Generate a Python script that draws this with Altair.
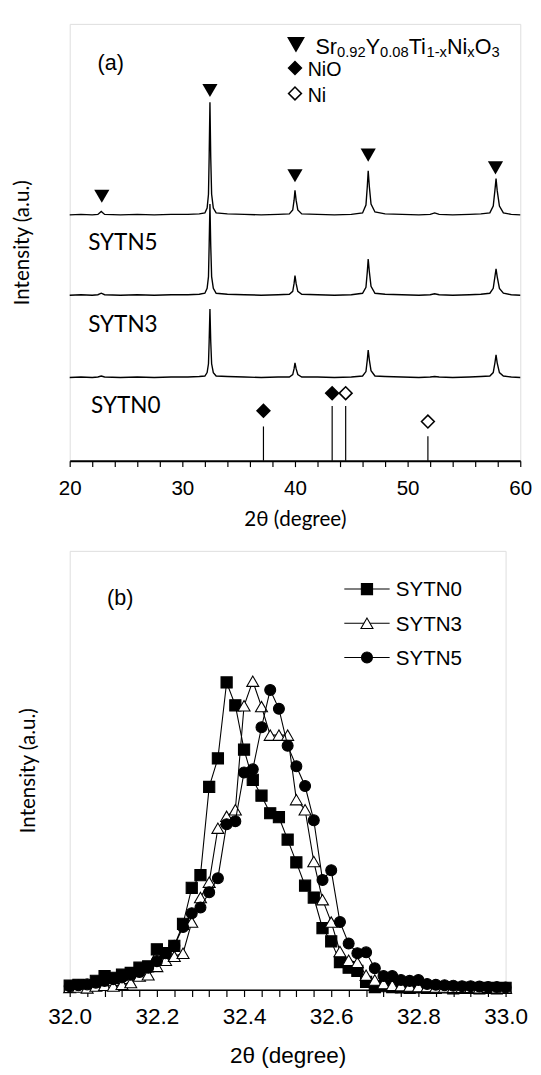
import altair as alt
import pandas as pd

# ---------------- Panel (a): XRD patterns ----------------
theta_a = [20.0, 21.0, 22.0, 22.5, 22.8, 23.1, 24.5, 26.0, 27.5, 29.0, 30.5, 31.5,
           32.0, 32.2, 32.32, 32.38, 32.45, 32.52, 32.6, 32.75, 33.0, 34.0, 35.5,
           37.0, 38.5, 39.5, 39.8, 39.92, 40.0, 40.1, 40.25, 40.6, 42.0, 43.5, 45.0,
           46.0, 46.3, 46.42, 46.5, 46.6, 46.75, 47.1, 48.0, 49.5, 51.0, 52.0, 52.4,
           52.8, 54.0, 55.5, 56.5, 57.3, 57.6, 57.75, 57.85, 57.95, 58.15, 58.5,
           59.2, 60.0]

int_top = [251, 251.5, 251, 251.5, 254.5, 251.5, 251, 251.5, 251, 251.5, 251.5, 252,
           253, 258, 272, 310, 366, 310, 272, 258, 253, 252, 251.5,
           251, 251.5, 252, 256, 266, 276, 266, 256, 252, 251.5, 251, 251.5,
           253, 261, 280, 296, 280, 262, 254, 252, 251.5, 251, 251.5, 253,
           251.5, 251, 251.5, 252, 253, 260, 276, 288, 276, 260, 253,
           251.5, 251]

int_mid = [169, 169.5, 169, 169.5, 171, 169.5, 169, 169.5, 169, 169.5, 169.5, 170,
           171, 176, 188, 220, 262, 220, 188, 176, 171, 170, 169.5,
           169, 169.5, 170, 173, 181, 189, 181, 173, 170, 169.5, 169, 169.5,
           171, 177, 193, 206, 193, 178, 171, 170, 169.5, 169, 169.5, 170.5,
           169.5, 169, 169.5, 170, 171, 176, 188, 196, 188, 176, 171,
           169.5, 169]

int_low = [85, 85.5, 85, 85.5, 86.5, 85.5, 85, 85.5, 85, 85.5, 85.5, 86,
           86.5, 90, 99, 122, 155, 122, 99, 90, 86.5, 86, 85.5,
           85, 85.5, 85.5, 88, 94, 100, 94, 88, 85.5, 85.5, 85, 85.5,
           86.5, 91, 103, 113, 103, 92, 86.5, 86, 85.5, 85, 85.5, 86,
           85.5, 85, 85.5, 86, 86.5, 90, 100, 108, 100, 90, 86.5,
           85.5, 85]

ref_x = [37.2, 43.3, 44.5, 51.8]
ref_h = [35, 56, 56, 25]
ref_mark_h = [51, 69, 69, 40]
ref_phase = ["NiO", "NiO", "Ni", "Ni"]

peak_x = [22.85, 32.45, 40.0, 46.5, 57.8]
peak_h = [270, 378, 291, 312, 299]

sample_names = ["SYTN5", "SYTN3", "SYTN0"]
sample_label_x = [21.64, 21.64, 21.9]
sample_label_h = [215, 131, 49]

# ---------------- Panel (b): zoom on main peak ----------------
theta_b = [round(32.0 + 0.02 * i, 2) for i in range(51)]

sytn0 = [0.009, 0.011, 0.009, 0.020, 0.031, 0.027, 0.034, 0.038, 0.050, 0.053,
         0.092, 0.083, 0.100, 0.150, 0.232, 0.261, 0.462, 0.527, 0.700, 0.648,
         0.547, 0.478, 0.442, 0.402, 0.393, 0.342, 0.290, 0.237, 0.210, 0.140,
         0.110, 0.063, 0.050, 0.043, 0.018, 0.006, 0.008, 0.006, 0.005, 0.004,
         0.005, 0.004, 0.004, 0.005, 0.003, 0.004, 0.004, 0.003, 0.004, 0.003,
         0.004]
sytn3 = [0.005, 0.006, 0.004, 0.008, 0.010, 0.008, 0.012, 0.016, 0.031, 0.034,
         0.053, 0.067, 0.076, 0.083, 0.154, 0.210, 0.245, 0.368, 0.395, 0.410,
         0.647, 0.703, 0.645, 0.580, 0.580, 0.580, 0.433, 0.410, 0.292, 0.205,
         0.154, 0.087, 0.067, 0.062, 0.033, 0.022, 0.014, 0.010, 0.009, 0.008,
         0.007, 0.007, 0.006, 0.006, 0.005, 0.005, 0.005, 0.004, 0.005, 0.004,
         0.004]
sytn5 = [0.008, 0.010, 0.012, 0.016, 0.020, 0.024, 0.028, 0.034, 0.040, 0.050,
         0.065, 0.083, 0.100, 0.143, 0.174, 0.187, 0.222, 0.254, 0.377, 0.384,
         0.495, 0.502, 0.598, 0.683, 0.640, 0.556, 0.509, 0.464, 0.386, 0.250,
         0.272, 0.154, 0.105, 0.083, 0.085, 0.049, 0.031, 0.031, 0.022, 0.020,
         0.022, 0.013, 0.011, 0.010, 0.009, 0.008, 0.008, 0.007, 0.006, 0.006,
         0.005]

series_b = ["SYTN0", "SYTN3", "SYTN5"]
shape_b = {"SYTN0": "square", "SYTN3": "triangle-up", "SYTN5": "circle"}
fill_b = {"SYTN0": "black", "SYTN3": "white", "SYTN5": "black"}
size_b = {"SYTN0": 130, "SYTN3": 150, "SYTN5": 125}
legend_b_y = [0.913, 0.835, 0.757]

# ---------------- helpers ----------------
AX_FONT = "Liberation Sans"
CAL_FONT = "Lato"

axis_a_x = alt.Axis(values=list(range(20, 61, 2)),
                    labelExpr="datum.value % 10 === 0 ? datum.label : ''",
                    tickSize=6, tickColor="black", tickWidth=1.2,
                    domainColor="black", domainWidth=2,
                    labelFont=AX_FONT, labelFontSize=21, labelColor="black",
                    labelPadding=11, labelFlush=False, labelOverlap=False,
                    title="2θ (degree)", titleFont=CAL_FONT, titleFontSize=21,
                    titleFontWeight="normal", titleColor="black", titlePadding=11,
                    grid=False)
axis_a_y = alt.Axis(ticks=False, labels=False, domain=False, grid=False,
                    title="Intensity (a.u.)", titleFont=CAL_FONT, titleFontSize=21,
                    titleFontWeight="normal", titleColor="black", titlePadding=38)
scale_a_x = alt.Scale(domain=[20, 60], nice=False, zero=False)
scale_a_y = alt.Scale(domain=[0, 446], nice=False)


def XA(f):
    return alt.X(f, type="quantitative", scale=scale_a_x, axis=axis_a_x)


def YA(f):
    return alt.Y(f, type="quantitative", scale=scale_a_y, axis=axis_a_y)


rows = []
for name, vals in zip(sample_names, [int_top, int_mid, int_low]):
    for t, v in zip(theta_a, vals):
        rows.append({"sample": name, "theta": t, "h": v})
df_a = pd.DataFrame(rows)

traces = alt.Chart(df_a).mark_line(color="black", strokeWidth=1.4).encode(
    x=XA("theta"), y=YA("h"), detail="sample:N", order="theta:Q")

df_ref = pd.DataFrame({"theta": ref_x, "h": ref_h, "hm": ref_mark_h,
                       "zero": [0] * len(ref_x), "phase": ref_phase})
sticks = alt.Chart(df_ref).mark_rule(color="black", strokeWidth=1.2).encode(
    x=XA("theta"), y=YA("zero"), y2="h:Q")
ref_marks = alt.Chart(df_ref).mark_point(shape="diamond", size=170, stroke="black",
                                         strokeWidth=1.6, opacity=1).encode(
    x=XA("theta"), y=YA("hm"),
    fill=alt.Fill("phase:N", scale=alt.Scale(domain=["NiO", "Ni"], range=["black", "white"]),
                  legend=None))

df_pk = pd.DataFrame({"theta": peak_x, "h": peak_h})
pk_marks = alt.Chart(df_pk).mark_point(shape="triangle-down", size=240, filled=True,
                                       color="black", opacity=1).encode(
    x=XA("theta"), y=YA("h"))

df_lab = pd.DataFrame({"theta": sample_label_x, "h": sample_label_h, "t": sample_names})
sample_labels = alt.Chart(df_lab).mark_text(font=CAL_FONT, fontSize=23, align="left",
                                            baseline="alphabetic", color="black").encode(
    x=XA("theta"), y=YA("h"), text="t:N")

df_panel_a = pd.DataFrame({"theta": [23.64], "h": [399], "t": ["(a)"]})
panel_a_label = alt.Chart(df_panel_a).mark_text(font=AX_FONT, fontSize=22, align="center",
                                                baseline="alphabetic", color="black").encode(
    x=XA("theta"), y=YA("h"), text="t:N")

# legend (a)
df_leg_a = pd.DataFrame({"theta": [40.09, 40.0, 40.0], "h": [425, 401, 375],
                         "shape": ["triangle-down", "diamond", "diamond"],
                         "fill": ["black", "black", "white"],
                         "size": [240, 170, 170]})
leg_a_sym = alt.Chart(df_leg_a).mark_point(stroke="black", strokeWidth=1.6, opacity=1).encode(
    x=XA("theta"), y=YA("h"),
    shape=alt.Shape("shape:N", scale=None),
    fill=alt.Fill("fill:N", scale=None),
    size=alt.Size("size:Q", scale=None))

df_leg_a_txt = pd.DataFrame({"theta": [41.13, 41.13], "h": [393, 366], "t": ["NiO", "Ni"]})
leg_a_txt = alt.Chart(df_leg_a_txt).mark_text(font=AX_FONT, fontSize=20, align="left",
                                              baseline="alphabetic", color="black").encode(
    x=XA("theta"), y=YA("h"), text="t:N")

formula_pieces = [("Sr", 0.0, False), ("0.92", 22.0, True), ("Y", 51.2, False),
                  ("0.08", 65.9, True), ("Ti", 95.1, False), ("1-x", 113.4, True),
                  ("Ni", 134.2, False), ("x", 155.0, True), ("O", 162.5, False),
                  ("3", 179.6, True)]
df_formula = pd.DataFrame({"theta": [41.82], "h": [415]})
formula_layers = []
for txt, dxp, sub in formula_pieces:
    formula_layers.append(
        alt.Chart(df_formula).mark_text(font=AX_FONT, fontSize=15 if sub else 22,
                                        align="left", baseline="alphabetic",
                                        dx=dxp, dy=3 if sub else 0, text=txt,
                                        color="black").encode(
            x=XA("theta"), y=YA("h")))

panel_a = alt.layer(traces, sticks, ref_marks, pk_marks, sample_labels, panel_a_label,
                    leg_a_sym, leg_a_txt, *formula_layers).properties(width=460, height=446)

# ---------------- Panel (b) ----------------
tick_vals_b = [round(32.0 + 0.04 * i, 2) for i in range(26)]
axis_b_x = alt.Axis(values=tick_vals_b,
                    labelExpr="abs(datum.value * 5 - round(datum.value * 5)) < 0.001 ? format(datum.value, '.1f') : ''",
                    tickSize=7, tickColor="black", tickWidth=1.2,
                    domainColor="black", domainWidth=1.5,
                    labelFont=AX_FONT, labelFontSize=23, labelColor="black",
                    labelPadding=10, labelFlush=False, labelOverlap=False,
                    title="2θ (degree)", titleFont=AX_FONT, titleFontSize=23,
                    titleFontWeight="normal", titleColor="black", titlePadding=16,
                    grid=False)
axis_b_y = alt.Axis(ticks=False, labels=False, domain=False, grid=False,
                    title="Intensity (a.u.)", titleFont=CAL_FONT, titleFontSize=21,
                    titleFontWeight="normal", titleColor="black", titlePadding=32)
scale_b_x = alt.Scale(domain=[32, 33], nice=False, zero=False)
scale_b_y = alt.Scale(domain=[0, 1], nice=False)


def XB(f):
    return alt.X(f, type="quantitative", scale=scale_b_x, axis=axis_b_x)


def YB(f):
    return alt.Y(f, type="quantitative", scale=scale_b_y, axis=axis_b_y)


layers_b = []
for name, vals in zip(series_b, [sytn0, sytn3, sytn5]):
    d = pd.DataFrame({"theta": theta_b, "I": vals})
    layers_b.append(alt.Chart(d).mark_line(color="black", strokeWidth=1.1).encode(
        x=XB("theta"), y=YB("I"), order="theta:Q"))
    layers_b.append(alt.Chart(d).mark_point(shape=shape_b[name], size=size_b[name],
                                            fill=fill_b[name], stroke="black",
                                            strokeWidth=1.1, opacity=1).encode(
        x=XB("theta"), y=YB("I")))

df_leg_b = pd.DataFrame({"x1": [32.63] * 3, "x2": [32.734] * 3, "xm": [32.682] * 3,
                         "xt": [32.748] * 3, "y": legend_b_y,
                         "yt": [v - 0.0167 for v in legend_b_y], "t": series_b,
                         "shape": [shape_b[s] for s in series_b],
                         "fill": [fill_b[s] for s in series_b],
                         "size": [size_b[s] for s in series_b]})
leg_b_line = alt.Chart(df_leg_b).mark_rule(color="black", strokeWidth=1.1).encode(
    x=XB("x1"), x2="x2:Q", y=YB("y"))
leg_b_sym = alt.Chart(df_leg_b).mark_point(stroke="black", strokeWidth=1.1, opacity=1).encode(
    x=XB("xm"), y=YB("y"),
    shape=alt.Shape("shape:N", scale=None),
    fill=alt.Fill("fill:N", scale=None),
    size=alt.Size("size:Q", scale=None))
leg_b_txt = alt.Chart(df_leg_b).mark_text(font=AX_FONT, fontSize=21, align="left",
                                          baseline="alphabetic", color="black").encode(
    x=XB("xt"), y=YB("yt"), text="t:N")

df_panel_b = pd.DataFrame({"theta": [32.116], "I": [0.877], "t": ["(b)"]})
panel_b_label = alt.Chart(df_panel_b).mark_text(font=AX_FONT, fontSize=22, align="center",
                                                baseline="alphabetic", color="black").encode(
    x=XB("theta"), y=YB("I"), text="t:N")

panel_b = alt.layer(*layers_b, leg_b_line, leg_b_sym, leg_b_txt,
                    panel_b_label).properties(width=445, height=448)

chart = alt.vconcat(panel_a, panel_b, spacing=20).properties(
    padding={"left": 3, "top": 4, "right": 0, "bottom": 0}
).configure_view(stroke="#333333", strokeWidth=1.2).configure(background="white")

chart.save("out.html", embed_options={"renderer": "svg", "actions": False})
